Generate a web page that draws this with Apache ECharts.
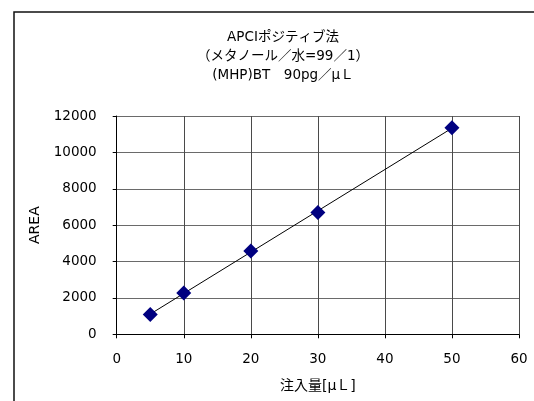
<!DOCTYPE html>
<html><head><meta charset="utf-8">
<script src="https://cdn.jsdelivr.net/npm/echarts@6/dist/echarts.min.js"></script>
<style>html,body{margin:0;padding:0;background:#fff}#c{width:534px;height:401px}</style>
</head><body><div id="c"></div>
<script>
const titleLines = ['APCIポジティブ法', '（メタノール／水=99／1）', '(MHP)BT　90pg／μＬ'];
const xName = '注入量[μＬ]';
const yName = 'AREA';
const injection = [5, 10, 20, 30, 50];
const area = [1090, 2270, 4580, 6700, 11360];
const trendX = [5, 50];
const trendY = [1110, 11330];

const FONT = "'DejaVu Sans', 'Noto Sans CJK JP', sans-serif";
const chart = echarts.init(document.getElementById('c'), null, {renderer: 'canvas'});
chart.setOption({
  animation: false,
  backgroundColor: '#fff',
  title: {
    text: titleLines.join('\n'),
    left: 278, top: 23, textAlign: 'center',
    textStyle: {fontSize: 13.5, lineHeight: 19, fontWeight: 'normal', color: '#000', fontFamily: FONT}
  },
  graphic: [{
    type: 'rect', silent: true,
    shape: {x: 14, y: 12, width: 700, height: 600},
    style: {fill: 'none', stroke: '#111', lineWidth: 1.5}
  }],
  grid: {left: 116.7, right: 15, top: 116, bottom: 66.7, containLabel: false},
  xAxis: {
    type: 'value', min: 0, max: 60, interval: 10,
    name: xName, nameLocation: 'middle', nameGap: 45,
    nameTextStyle: {fontSize: 14, color: '#000', fontFamily: FONT},
    axisLine: {show: true, onZero: false, lineStyle: {color: '#000', width: 1}},
    axisTick: {show: true, length: 4, lineStyle: {color: '#000'}},
    axisLabel: {fontSize: 13.5, color: '#000', margin: 18, fontFamily: FONT, formatter: v => String(v)},
    splitLine: {show: true, lineStyle: {color: '#4a4a4a', width: 1}}
  },
  yAxis: {
    type: 'value', min: 0, max: 12000, interval: 2000,
    name: yName, nameLocation: 'middle', nameGap: 71,
    nameTextStyle: {fontSize: 14, color: '#000', fontFamily: FONT},
    axisLine: {show: true, onZero: false, lineStyle: {color: '#000', width: 1}},
    axisTick: {show: true, length: 4, lineStyle: {color: '#000'}},
    axisLabel: {fontSize: 13.5, color: '#000', margin: 20, fontFamily: FONT, formatter: v => String(v)},
    splitLine: {show: true, lineStyle: {color: '#6a6a6a', width: 1}}
  },
  series: [{
    type: 'line', data: trendX.map((x, i) => [x, trendY[i]]),
    showSymbol: false, symbol: 'none',
    lineStyle: {color: '#000', width: 1}, z: 2
  }, {
    type: 'scatter', data: injection.map((x, i) => [x, area[i]]),
    symbol: 'diamond', symbolSize: [15, 15],
    itemStyle: {color: '#000080', opacity: 1}, z: 3
  }]
});
</script></body></html>
